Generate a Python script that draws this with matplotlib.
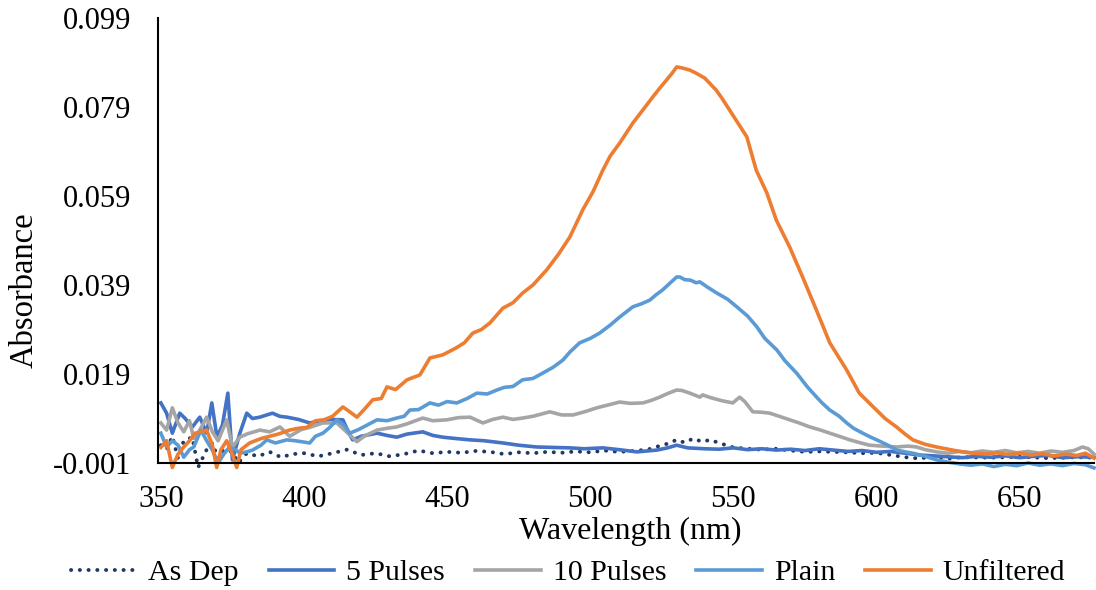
import matplotlib
matplotlib.use("Agg")
import matplotlib.pyplot as plt

# ---------------- data ----------------
wl_unf = [350, 352, 354, 356, 358, 360, 362, 364, 366, 368, 369.5, 371, 373, 375, 376.5, 378, 381, 385, 388, 391,
          395, 398, 401, 404, 407, 410, 413.6, 416, 418.5, 421, 424, 427, 429, 432, 436, 440.5, 444, 448.5, 453, 456,
          459, 462, 465, 469.5, 473, 476.4, 480, 484.8, 489, 492.9, 497.4, 501, 504.4, 507, 510.3, 514.9, 518, 521.8,
          524, 526.7, 528.5, 530.2, 532, 534.8, 537, 540, 544, 546, 548.7, 551, 554.7, 558, 561.7, 565, 569.7, 574.2,
          579, 583.7, 589.6, 594, 600, 603, 607, 610, 612.7, 617, 621, 626.6, 630, 634, 638, 642, 646, 650, 654, 658,
          662, 666, 670, 673, 676]
ab_unf = [0.0025, 0.004, -0.002, 0.001, 0.0026, 0.004, 0.0057, 0.006, 0.0064, 0.003, -0.002, 0.002, 0.004, 0.001,
          -0.002, 0.002, 0.0035, 0.0045, 0.005, 0.0055, 0.0064, 0.0068, 0.007, 0.0085, 0.0087, 0.0095, 0.0116, 0.0105,
          0.0093, 0.011, 0.0132, 0.0135, 0.0161, 0.0155, 0.0177, 0.0188, 0.0226, 0.0233, 0.0248, 0.026, 0.0282, 0.029,
          0.0305, 0.0338, 0.035, 0.0372, 0.039, 0.0424, 0.046, 0.0498, 0.0559, 0.060, 0.0648, 0.068, 0.0709, 0.0754,
          0.078, 0.0812, 0.083, 0.0851, 0.0865, 0.0880, 0.0878, 0.0873, 0.0866, 0.0855, 0.0828, 0.081, 0.0783, 0.076,
          0.0723, 0.0648, 0.0597, 0.0536, 0.0475, 0.0408, 0.0334, 0.0260, 0.0199, 0.0147, 0.0109, 0.009, 0.0071,
          0.0055, 0.0042, 0.0032, 0.0026, 0.0019, 0.0015, 0.0012, 0.001, 0.0013, 0.0009, 0.0012, 0.0008, 0.0011,
          0.0006, 0.001, 0.0007, 0.0012, 0.0001]

wl_plain = [350, 352, 354, 356, 358, 360, 361.5, 364, 366, 368, 370, 372, 374, 376, 377.6, 380, 382, 385, 387, 390,
            394, 397, 402, 404, 406.6, 409, 411.5, 414, 416, 419, 422, 425.5, 429, 432.4, 435, 437, 440, 444, 447, 450,
            453.4, 457, 460.4, 464, 467.4, 470, 473, 476.4, 480, 483.4, 487, 490.4, 493, 496.3, 500, 503.3, 507, 510.3,
            514.9, 518, 520.8, 523, 525.3, 528, 530.2, 531.3, 533, 535, 537, 538.3, 541, 544.2, 548, 551.2, 555, 558.2,
            561, 565.2, 568, 572.1, 576, 579.1, 581, 583.7, 587, 589.6, 592, 595.2, 598, 600.1, 604, 607.1, 610, 612.7,
            617, 621, 625, 629, 633, 637, 641, 645, 649, 653, 657, 661, 665, 669, 673, 676]
ab_plain = [0.0057, 0.0026, 0.004, 0.003, 0.0003, 0.002, 0.0026, 0.0064, 0.004, 0.0019, -0.001, 0.001, 0.0026, 0.002,
            0.0012, 0.0015, 0.0019, 0.003, 0.0042, 0.0035, 0.0042, 0.004, 0.0035, 0.005, 0.0057, 0.007, 0.0087, 0.0075,
            0.0057, 0.0065, 0.0075, 0.0087, 0.0085, 0.0091, 0.0095, 0.0109, 0.011, 0.0125, 0.012, 0.0128, 0.0125,
            0.0135, 0.0147, 0.0145, 0.0154, 0.016, 0.0162, 0.0177, 0.018, 0.0192, 0.0205, 0.0221, 0.024, 0.0260, 0.027,
            0.0282, 0.030, 0.0318, 0.0341, 0.0348, 0.0356, 0.0368, 0.0379, 0.0395, 0.0408, 0.0408, 0.0402, 0.0401,
            0.0395, 0.0397, 0.0385, 0.0372, 0.0358, 0.0341, 0.032, 0.0296, 0.027, 0.0244, 0.022, 0.0192, 0.016, 0.0138,
            0.0125, 0.0109, 0.0095, 0.0080, 0.0068, 0.0057, 0.0048, 0.0042, 0.003, 0.0019, 0.0015, 0.0012, 0.0005,
            -0.0003, -0.0008, -0.0012, -0.0015, -0.0012, -0.0018, -0.0013, -0.0016, -0.001, -0.0015, -0.0012, -0.0016,
            -0.0011, -0.0014, -0.0021]

wl_p10 = [350, 352, 354, 356, 358, 360, 361.5, 363.6, 366, 368, 370, 373, 375, 377.6, 380, 384.6, 388, 391.6, 395, 399,
          402, 406.6, 411.5, 414, 418.5, 421, 425.5, 429, 432.4, 436, 441.5, 445, 449.9, 454, 458, 462.5, 466, 469.5,
          473, 476.4, 480, 485.9, 490, 494, 498, 502.3, 506, 510.3, 514, 518.4, 521, 524.3, 527, 530.2, 532, 534.8,
          538.3, 539.3, 542, 546, 549.8, 552.2, 554, 556.8, 560, 562.7, 566, 569.7, 573, 576.7, 580, 583.7, 587, 590.7,
          594, 597.6, 602, 607, 611, 614, 617, 621, 625, 629, 633, 637, 641, 645, 649, 653, 657, 661, 665, 669, 672,
          674, 676]
ab_p10 = [0.008, 0.0064, 0.0114, 0.008, 0.006, 0.0085, 0.0045, 0.0064, 0.0093, 0.006, 0.004, 0.0087, 0.0026, 0.0048,
          0.0055, 0.0064, 0.006, 0.0071, 0.005, 0.0065, 0.007, 0.008, 0.008, 0.0065, 0.0038, 0.005, 0.0064, 0.0068,
          0.0071, 0.0078, 0.0091, 0.0085, 0.0087, 0.0092, 0.0093, 0.0080, 0.0088, 0.0093, 0.0088, 0.0091, 0.0095,
          0.0105, 0.0098, 0.0098, 0.0105, 0.0114, 0.012, 0.0127, 0.0124, 0.0125, 0.013, 0.0138, 0.0146, 0.0154,
          0.0153, 0.0147, 0.0138, 0.0143, 0.0137, 0.013, 0.0125, 0.0138, 0.0128, 0.0105, 0.0104, 0.0102, 0.0095,
          0.0087, 0.008, 0.0071, 0.0065, 0.0057, 0.005, 0.0042, 0.0036, 0.0030, 0.0028, 0.0026, 0.0028, 0.0026, 0.002,
          0.0015, 0.0012, 0.0016, 0.0013, 0.0017, 0.0014, 0.0018, 0.0013, 0.0016, 0.0012, 0.0017, 0.0014, 0.0018,
          0.0026, 0.0022, 0.001]

wl_p5 = [350, 352, 354, 356.6, 358.5, 361, 363.6, 366, 367.8, 369.6, 371.5, 373.4, 375, 377.6, 380, 382, 384.6, 387,
         389, 391.5, 394, 398, 402, 406, 409, 413.6, 415.5, 417, 420, 425.5, 429, 432.4, 436, 441.5, 445, 448.5, 453,
         458, 463, 469.5, 475, 481.3, 487, 492.9, 498, 504.4, 510, 516.3, 523.3, 527, 530.2, 534, 540, 545, 550, 555,
         560, 565, 570, 575, 580, 585, 590, 595, 600, 605, 610, 615, 620, 625, 630, 635, 640, 645, 650, 655, 660, 665,
         670, 676]
ab_p5 = [0.0125, 0.0102, 0.0057, 0.0102, 0.009, 0.0071, 0.0093, 0.0057, 0.0125, 0.0048, 0.0075, 0.0147, -0.0003,
         0.0057, 0.0102, 0.009, 0.0093, 0.0098, 0.0102, 0.0095, 0.0093, 0.0088, 0.008, 0.0085, 0.0088, 0.0087, 0.006,
         0.0042, 0.005, 0.0057, 0.0052, 0.0048, 0.0055, 0.006, 0.0052, 0.0048, 0.0045, 0.0042, 0.004, 0.0035, 0.003,
         0.0026, 0.0025, 0.0024, 0.0022, 0.0024, 0.002, 0.0015, 0.0019, 0.0024, 0.003, 0.0024, 0.0022, 0.0021, 0.0024,
         0.002, 0.0022, 0.0019, 0.0021, 0.0018, 0.0022, 0.0019, 0.0016, 0.0018, 0.0014, 0.0016, 0.0012, 0.0008, 0.0006,
         0.0004, 0.0002, 0.0005, 0.0003, 0.0006, 0.0002, 0.0005, 0.0007, 0.0002, 0.0004, 0.0003]

wl_dep = [350, 352, 354, 356, 358, 361, 363, 366, 368, 370, 372, 375, 377, 380, 384, 388, 392, 396, 400, 405, 410, 415,
          420, 425, 430, 435, 440, 445, 450, 455, 460, 465, 470, 475, 480, 485, 490, 495, 500, 505, 510, 515, 520, 525,
          528, 530, 533, 536, 539, 542, 545, 550, 555, 560, 565, 570, 575, 580, 585, 590, 595, 600, 605, 610, 615, 620,
          625, 630, 640, 650, 660, 670, 676]
ab_dep = [0.003, 0.002, 0.005, 0.0, 0.004, 0.0048, -0.002, 0.002, 0.0035, 0.0, 0.002, 0.0015, -0.001, 0.0012, 0.0005,
          0.0015, 0.0003, 0.001, 0.0012, 0.0005, 0.0012, 0.002, 0.0008, 0.0012, 0.0005, 0.001, 0.0018, 0.0012, 0.0015,
          0.0013, 0.0017, 0.0015, 0.001, 0.0014, 0.0012, 0.0015, 0.0013, 0.0016, 0.0014, 0.0018, 0.0015, 0.0017, 0.002,
          0.003, 0.0035, 0.0042, 0.0036, 0.0045, 0.0038, 0.0042, 0.0035, 0.0025, 0.0022, 0.002, 0.0022, 0.0018, 0.0015,
          0.0016, 0.0015, 0.0014, 0.0012, 0.0013, 0.0008, 0.0003, 0.0, 0.0005, 0.0, 0.0003, 0.0002, 0.0004, 0.0001,
          0.0003, 0.0002]

y_ticks = [-0.001, 0.019, 0.039, 0.059, 0.079, 0.099]
x_ticks = [350, 400, 450, 500, 550, 600, 650]

# ---------------- plot ----------------
plt.rcParams['font.family'] = ['Liberation Serif', 'DejaVu Serif']

fig = plt.figure(figsize=(10.96, 5.90), dpi=100)
ax = fig.add_axes([158 / 1096, 1 - 463 / 590, (1094 - 158) / 1096, (463 - 18) / 590])

lw = 2.6
ax.plot(wl_dep, ab_dep, color='#1F3864', lw=2.8, linestyle=(0, (0.05, 2.2)),
        dash_capstyle='round', solid_capstyle='round', label='As Dep', clip_on=False)
ax.plot(wl_p5, ab_p5, color='#4472C4', lw=lw, label='5 Pulses', clip_on=False)
ax.plot(wl_p10, ab_p10, color='#A5A5A5', lw=lw, label='10 Pulses', clip_on=False)
ax.plot(wl_plain, ab_plain, color='#5B9BD5', lw=lw, label='Plain', clip_on=False)
ax.plot(wl_unf, ab_unf, color='#ED7D31', lw=lw, label='Unfiltered', clip_on=False)

ax.set_xlim(349, 676)
ax.set_ylim(-0.001, 0.099)
ax.set_yticks(y_ticks)
ax.set_yticklabels([f"{v:.3f}" for v in y_ticks])
ax.set_xticks(x_ticks)
ax.set_xticklabels([str(v) for v in x_ticks])
ax.tick_params(axis='both', length=0, labelsize=22)
ax.tick_params(axis='y', pad=19)
ax.tick_params(axis='x', pad=16)

for s in ['top', 'right']:
    ax.spines[s].set_visible(False)
ax.spines['left'].set_linewidth(1.5)
ax.spines['bottom'].set_linewidth(1.5)
ax.spines['left'].set_color('black')
ax.spines['bottom'].set_color('black')

fig.text(24 / 1096, 1 - 290 / 590, 'Absorbance', rotation=90, ha='center', va='center', fontsize=23.5)
fig.text(630 / 1096, 1 - 531 / 590, 'Wavelength (nm)', ha='center', va='center', fontsize=23)

fig.legend(loc='center', bbox_to_anchor=(568 / 1096, 1 - 573 / 590), ncol=5, frameon=False, fontsize=21.5,
           handlelength=2.2, handletextpad=0.4, columnspacing=1.0, borderaxespad=0)

fig.savefig('out.png', dpi=100)
